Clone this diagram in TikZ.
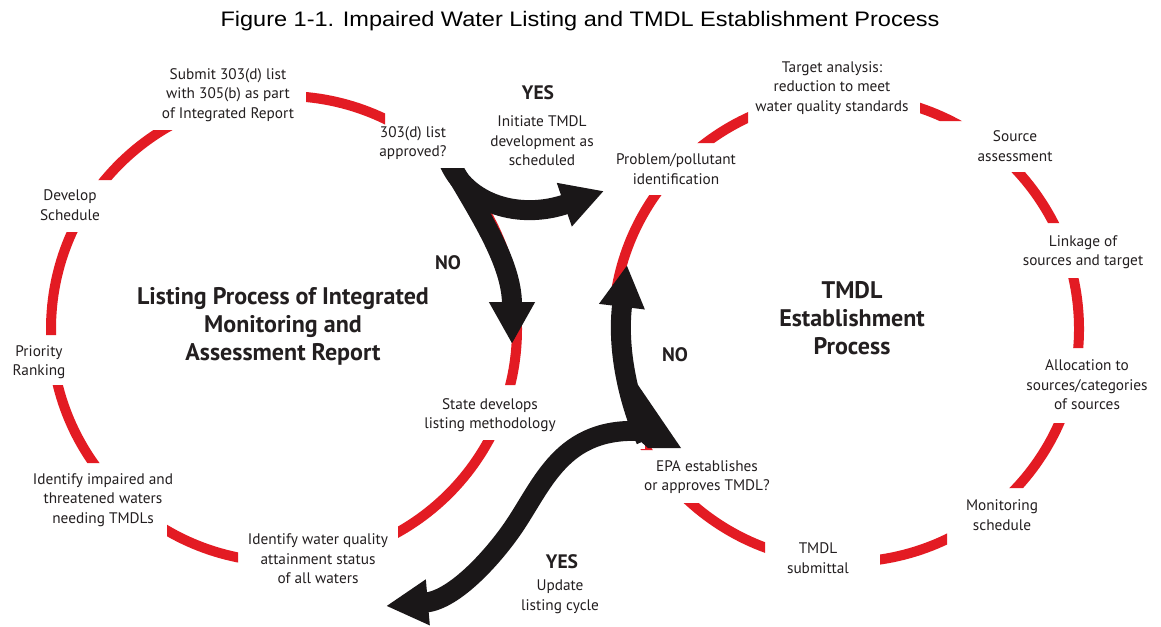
\documentclass[tikz,border=0pt]{standalone}
\usepackage{fontspec}
\setmainfont{PT Sans}
\newfontfamily\titlefont{Liberation Sans}
\usetikzlibrary{arrows.meta}
\definecolor{cred}{HTML}{E31B23}
\definecolor{cblk}{HTML}{1A1718}
\definecolor{ctxt}{HTML}{231F20}
\tikzset{
  lbl/.style={align=center, text=ctxt, font=\fontsize{15.3}{19.5}\selectfont, inner sep=0pt},
  big/.style={align=center, text=ctxt, font=\bfseries\fontsize{24}{28}\selectfont, inner sep=0pt},
  yn/.style={text=ctxt, font=\bfseries\fontsize{19.5}{20}\selectfont, inner sep=0pt},
  ring/.style={draw=cred, line width=10pt},
  flow/.style={draw=cblk, line width=20pt, -{Triangle[width=43pt,length=42pt]}},
}
\begin{document}
\begin{tikzpicture}[x=1pt,y=-1pt]
\useasboundingbox (0,0) rectangle (1161,626);
\fill[white] (0,0) rectangle (1161,626);

% red cycles, interrupted where the labels sit
\begin{scope}[even odd rule]
\clip (-5,-5) rectangle (1166,631)
  (140,55) rectangle (306,130)
  (385,60) rectangle (470,168)
  (20,180) rectangle (140,232)
  (0,335) rectangle (110,385)
  (0,463) rectangle (167,585)
  (238,515) rectangle (398,615)
  (400,385) rectangle (560,440)
  (600,143) rectangle (760,195)
  (748,50) rectangle (920,126)
  (930,121) rectangle (1100,172)
  (1000,223) rectangle (1161,278)
  (1000,348) rectangle (1161,423)
  (947,488) rectangle (1100,600)
  (765,520) rectangle (880,620)
  (600,450) rectangle (765,503)
  (560,300) rectangle (645,449);
\coordinate (cL) at (284,329);
\coordinate (cR) at (846,329);
\draw[ring] (cL) circle[radius=233];
\draw[ring] (cR) circle[radius=233];
\end{scope}

% black decision arrows
\begin{scope}
\clip (0,168) rectangle (1161,626);
\coordinate (a1) at (448,160);
\coordinate (a1no) at (512,344);
\coordinate (a1yes) at (604,191);
\draw[flow] (a1) .. controls (478,212) and (512,262) .. (a1no);
\draw[flow] (a1) .. controls (466,205) and (520,220) .. (a1yes);
\end{scope}
\coordinate (a2) at (646,440);
\coordinate (a2s) at (652,432);
\coordinate (a2no) at (627,265);
\coordinate (a2yes) at (386,606);
\coordinate (a2m) at (515,525);
\draw[flow] (a2) .. controls (632,410) and (616,355) .. (a2no);
\draw[flow] (a2s) .. controls (565,422) and (545,480) .. (a2m) .. controls (495,555) and (455,600) .. (a2yes);
\fill[cblk] (638,385) -- (681,448) -- (648,448) -- (630,432) -- cycle;

% title
\node[font=\titlefont\fontsize{21}{24}\selectfont, text=black] (title) at (580,21) {\scalebox{1.12}[1]{Figure 1-1. Impaired Water Listing and TMDL Establishment Process}};

% left cycle labels
\node[lbl] (submit) at (228,95) {Submit 303(d) list\\with 305(b) as part\\of Integrated Report};
\node[lbl] (approved) at (413,143) {303(d) list\\approved?};
\node[lbl] (initiate) at (542,141) {Initiate TMDL\\development as\\scheduled};
\node[yn] (yes1) at (538,93) {YES};
\node[lbl] (develop) at (70,205) {Develop\\Schedule};
\node[lbl] (priority) at (39,362) {Priority\\Ranking};
\node[lbl] (impaired) at (103,500) {Identify impaired and\\threatened waters\\needing TMDLs};
\node[lbl] (attain) at (318,559) {Identify water quality\\attainment status\\of all waters};
\node[lbl] (state) at (490,415) {State develops\\listing methodology};
\node[yn] (no1) at (448,263) {NO};
\node[big] (listing) at (283,326) {Listing Process of Integrated\\Monitoring and\\Assessment Report};

% right cycle labels
\node[lbl] (target) at (832,88) {Target analysis:\\reduction to meet\\water quality standards};
\node[lbl] (problem) at (676,169) {Problem/pollutant\\identification};
\node[lbl] (source) at (1015,146) {Source\\assessment};
\node[lbl] (linkage) at (1083,252) {Linkage of\\sources and target};
\node[big] (tmdl) at (852,318) {TMDL\\Establishment\\Process};
\node[lbl] (alloc) at (1087,385) {Allocation to\\sources/categories\\of sources};
\node[lbl] (monit) at (1002,515) {Monitoring\\schedule};
\node[lbl] (submittal) at (818,558) {TMDL\\submittal};
\node[lbl] (epa) at (707,477) {EPA establishes\\or approves TMDL?};
\node[yn] (no2) at (675,355) {NO};
\node[yn] (yes2) at (562,562) {YES};
\node[lbl] (update) at (560,597) {Update\\listing cycle};
\end{tikzpicture}
\end{document}
